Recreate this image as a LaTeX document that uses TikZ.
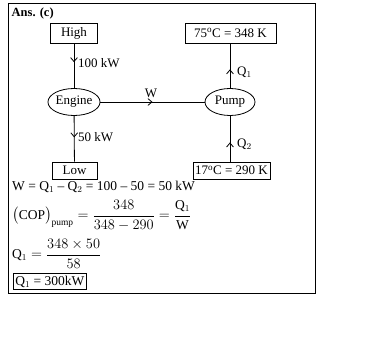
\documentclass[tikz,border=0pt]{standalone}
\usepackage{amsmath}
\usepackage{fontspec}
\setmainfont{Liberation Serif}
\usetikzlibrary{arrows.meta,shapes.geometric,decorations.markings}

\begin{document}
\begin{tikzpicture}[
  x=1pt, y=-1pt,
  font=\fontsize{13}{15}\selectfont,
  res/.style={draw, line width=.8pt, minimum height=20pt, inner sep=2pt},
  dev/.style={draw, ellipse, line width=.8pt, minimum width=48pt,
              minimum height=27pt, inner sep=0pt},
  flow/.style={line width=.8pt, postaction={decorate},
               decoration={markings, mark=at position #1 with
                 {\arrow{Straight Barb[length=1.4mm,width=2.4mm]}}}},
  flow/.default=0.5,
  lbl/.style={anchor=west, inner sep=1pt},
  eq/.style={anchor=west, inner sep=0pt, font=\fontsize{13.5}{16}\selectfont},
]
\useasboundingbox (0,0) rectangle (376,353);

% ---------------- frame ----------------
\draw[line width=.8pt] (8,3) rectangle (315,293);
\node[anchor=west, inner sep=0pt, font=\bfseries\fontsize{12.5}{14}\selectfont]
  (title) at (11.5,13) {Ans. (c)};

% ---------------- reservoirs ----------------
\node[res, minimum width=47pt] (high) at (74,33) {High};
\node[res, minimum width=91pt] (hot) at (230.5,33) {75$^{\rm o}$C = 348 K};
\node[res, minimum width=45pt, minimum height=17pt] (low) at (74.5,170.5) {Low};
\node[res, minimum width=77pt, minimum height=17pt] (cold) at (231.5,170.5) {17$^{\rm o}$C = 290 K};

% ---------------- devices ----------------
\node[dev] (engine) at (74,102) {Engine};
\node[dev, minimum width=50pt] (pump) at (230,102) {Pump};

% ---------------- flows ----------------
\draw[flow=0.42] (high) -- (engine);
\draw[flow=0.47] (engine) -- (low);
\draw[flow] (engine) -- (pump);
\draw[flow=0.42] (pump.north) -- (pump.north |- hot.south);
\draw[flow=0.42] (cold.north -| pump.south) -- (pump.south);

\node[lbl] (qh) at (77,63) {100 kW};
\node[lbl] (ql) at (77,137) {50 kW};
\node[inner sep=1pt] (w) at (151,93) {W};
\node[lbl] (q1) at (236,72) {Q$_1$};
\node[lbl] (q2) at (236,144) {Q$_2$};

% ---------------- working ----------------
\node[eq] (eq1) at (12,187) {W = Q$_1$ -- Q$_2$ = 100 -- 50 = 50 kW};
\node[eq] (eq2) at (12,215.5)
  {$\bigl(\mathrm{COP}\bigr)_{\mathrm{pump}} = \dfrac{348}{348-290}
   = \dfrac{\mathrm{Q}_1}{\mathrm{W}}$};
\node[eq] (eq3) at (12,254) {$\mathrm{Q}_1 = \dfrac{348\times 50}{58}$};
\node[eq, draw, line width=.6pt, inner sep=2pt] (res) at (13,281.5) {Q$_1$ = 300kW};

\end{tikzpicture}
\end{document}
